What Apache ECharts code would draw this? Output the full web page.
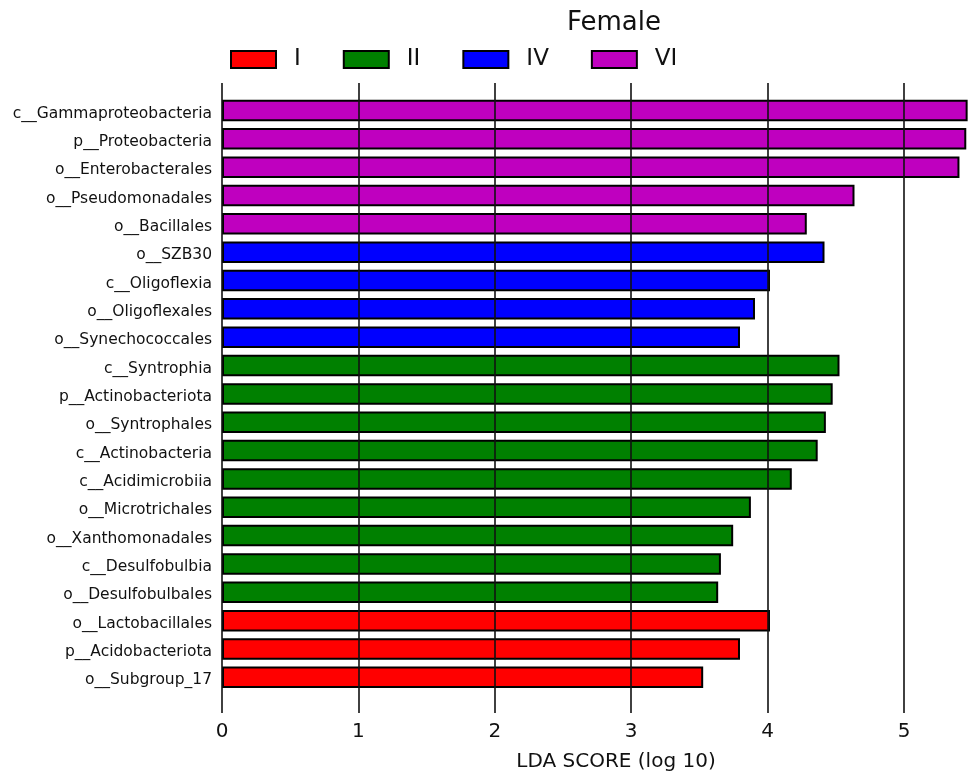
<!DOCTYPE html>
<html>
<head>
<meta charset="utf-8">
<script src="https://cdn.jsdelivr.net/npm/echarts@6/dist/echarts.min.js"></script>
<style>
  html, body { margin: 0; padding: 0; background: #fff; }
  #chart { width: 976px; height: 773px; }
</style>
</head>
<body>
<div id="chart"></div>
<script>
// Taxa, listed top to bottom
const taxa = [
  'c__Gammaproteobacteria', 'p__Proteobacteria', 'o__Enterobacterales', 'o__Pseudomonadales', 'o__Bacillales',
  'o__SZB30', 'c__Oligoflexia', 'o__Oligoflexales', 'o__Synechococcales',
  'c__Syntrophia', 'p__Actinobacteriota', 'o__Syntrophales', 'c__Actinobacteria', 'c__Acidimicrobiia',
  'o__Microtrichales', 'o__Xanthomonadales', 'c__Desulfobulbia', 'o__Desulfobulbales',
  'o__Lactobacillales', 'p__Acidobacteriota', 'o__Subgroup_17'
];
// Group each taxon is enriched in
const groupOf = [
  'VI', 'VI', 'VI', 'VI', 'VI',
  'IV', 'IV', 'IV', 'IV',
  'II', 'II', 'II', 'II', 'II', 'II', 'II', 'II', 'II',
  'I', 'I', 'I'
];
// LDA scores (log 10)
const ldaScores = [
  5.47, 5.46, 5.41, 4.64, 4.29,
  4.42, 4.02, 3.91, 3.80,
  4.53, 4.48, 4.43, 4.37, 4.18, 3.88, 3.75, 3.66, 3.64,
  4.02, 3.80, 3.53
];
const groups = ['I', 'II', 'IV', 'VI'];
const groupColors = ['#ff0000', '#008000', '#0000ff', '#bf00bf'];
const xTicks = [0, 1, 2, 3, 4, 5];

const FONT = 'DejaVu Sans';
const chart = echarts.init(document.getElementById('chart'), null, { renderer: 'canvas' });

const barSeries = groups.map((g, gi) => ({
  name: g,
  type: 'bar',
  xAxisIndex: 0,
  yAxisIndex: 0,
  barWidth: 21.5,
  barGap: '-100%',
  z: 2,
  itemStyle: { color: groupColors[gi], borderColor: '#000', borderWidth: 2 },
  emphasis: { disabled: true },
  data: ldaScores.map((v, i) => (groupOf[i] === g ? v : '-'))
}));

chart.setOption({
  animation: false,
  backgroundColor: '#ffffff',
  textStyle: { fontFamily: FONT },
  legend: {
    data: groups,
    left: 225,
    top: 43,
    itemWidth: 45,
    itemHeight: 17,
    itemGap: 42,
    icon: 'rect',
    itemStyle: { borderColor: '#000', borderWidth: 2 },
    textStyle: { fontFamily: FONT, fontSize: 23, color: '#111', padding: [0, 0, 0, 13] }
  },
  graphic: [
    {
      type: 'text',
      style: { text: 'Female', x: 614, y: 23, textAlign: 'center', textVerticalAlign: 'middle',
               font: '26px "DejaVu Sans"', fill: '#111' }
    },
    {
      type: 'text',
      style: { text: 'LDA SCORE (log 10)', x: 616, y: 762, textAlign: 'center', textVerticalAlign: 'middle',
               font: '20px "DejaVu Sans"', fill: '#111' }
    }
  ],
  grid: [
    { left: 222, right: 7, top: 96.3, bottom: 81.5, containLabel: false },
    { left: 222, right: 72, top: 83, bottom: 60, containLabel: false }
  ],
  xAxis: [
    {
      gridIndex: 0, type: 'value', min: 0, max: 5.48,
      axisLine: { show: false }, axisTick: { show: false },
      axisLabel: { show: false }, splitLine: { show: false }
    },
    {
      gridIndex: 1, type: 'value', min: xTicks[0], max: xTicks[xTicks.length - 1], interval: 1,
      z: 5,
      axisLine: { show: false }, axisTick: { show: false },
      axisLabel: { fontFamily: FONT, fontSize: 20, color: '#111', margin: 9,
                   formatter: v => String(v) },
      splitLine: { show: true, lineStyle: { color: '#111', width: 1.6 } }
    }
  ],
  yAxis: [
    {
      gridIndex: 0, type: 'category', data: taxa, inverse: true,
      axisLine: { show: false }, axisTick: { show: false },
      axisLabel: {
        margin: 10,
        formatter: v => '{t|' + v + '}',
        rich: { t: { fontFamily: FONT, fontSize: 15.5, color: '#111', padding: [6, 0, 0, 0] } }
      }
    },
    { gridIndex: 1, type: 'value', show: false }
  ],
  series: barSeries
});
</script>
</body>
</html>
